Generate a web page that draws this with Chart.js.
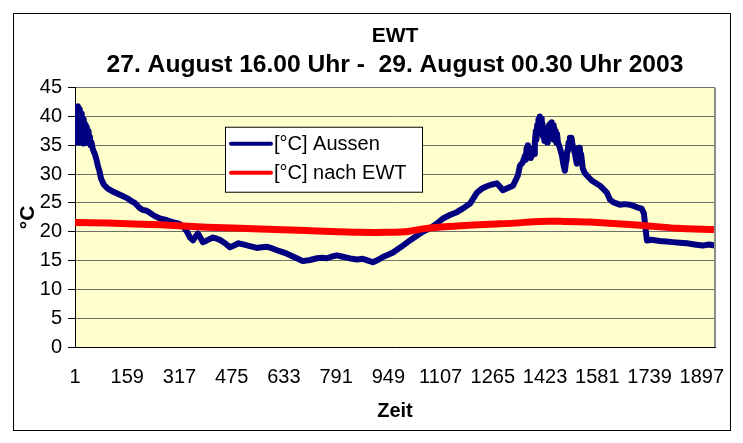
<!DOCTYPE html>
<html>
<head>
<meta charset="utf-8">
<script src="https://cdn.jsdelivr.net/npm/chart.js@4/dist/chart.umd.min.js"></script>
<style>
  body { margin: 0; background: #fff; }
  canvas { display: block; }
</style>
</head>
<body>
<canvas id="ewtChart" width="743" height="443"></canvas>
<script>
// Messwerte (Minutenindex) - Aussentemperatur
var zeitAussen = [1, 2, 3, 4, 5, 6, 7, 8, 9, 10, 11, 12, 13, 14, 15, 16, 17, 18, 19, 20, 21, 22, 23, 24, 25, 26, 27, 28, 29, 30, 31, 32, 33, 34, 35, 36, 37, 38, 40, 42, 44, 46, 48, 51, 54, 57, 61, 66, 70, 75, 80, 88, 100, 115, 130, 145, 160, 172, 182, 195, 205, 215, 225, 240, 258, 280, 300, 316, 330, 340, 349, 358, 366, 373, 380, 388, 400, 418, 430, 439, 455, 470, 482, 494, 510, 530, 551, 566, 582, 598, 612, 627, 642, 657, 672, 690, 712, 733, 748, 763, 778, 793, 808, 824, 839, 854, 872, 888, 902, 917, 932, 948, 963, 978, 993, 1014, 1035, 1053, 1075, 1095, 1114, 1135, 1156, 1176, 1196, 1206, 1217, 1232, 1247, 1262, 1277, 1287, 1295, 1310, 1326, 1341, 1347, 1355, 1362, 1365, 1367, 1369, 1371, 1374, 1377, 1380, 1383, 1386, 1388, 1390, 1392, 1395, 1397, 1399, 1401, 1403, 1405, 1407, 1409, 1411, 1413, 1415, 1417, 1419, 1421, 1423, 1425, 1427, 1429, 1431, 1433, 1435, 1437, 1439, 1441, 1443, 1445, 1447, 1449, 1451, 1453, 1455, 1457, 1459, 1462, 1468, 1474, 1479, 1483, 1486, 1488, 1490, 1492, 1494, 1496, 1498, 1501, 1503, 1505, 1508, 1510, 1515, 1519, 1521, 1523, 1525, 1528, 1530, 1532, 1537, 1543, 1549, 1564, 1589, 1610, 1619, 1630, 1649, 1665, 1679, 1695, 1703, 1715, 1722, 1726, 1731, 1745, 1770, 1790, 1809, 1830, 1852, 1875, 1900, 1918, 1936];
var tempAussen = [37, 39.5, 36, 40.5, 35.5, 41, 36.5, 41.5, 35.5, 41.8, 37, 41.5, 35.5, 41.2, 36, 41, 38, 40.5, 35.5, 40.5, 36.5, 40, 35.5, 39.5, 36, 39.5, 35.3, 39, 36.5, 38.8, 35.5, 38.5, 36, 38, 36.5, 38.2, 35.5, 37.5, 36, 37.5, 35.5, 36.5, 35, 35.5, 34.5, 34, 33.5, 32.5, 31.5, 30.5, 29.2, 28.2, 27.5, 27, 26.6, 26.2, 25.8, 25.3, 25, 24.2, 23.8, 23.7, 23.4, 22.8, 22.3, 22, 21.6, 21.4, 20.8, 20, 19, 18.5, 19.2, 19.7, 19, 18.2, 18.5, 19, 18.8, 18.6, 18, 17.3, 17.6, 18, 17.8, 17.5, 17.2, 17.3, 17.4, 17.1, 16.8, 16.5, 16.2, 15.8, 15.4, 14.9, 15.1, 15.4, 15.5, 15.4, 15.7, 15.9, 15.7, 15.5, 15.3, 15.2, 15.3, 15.0, 14.7, 15.1, 15.6, 16.0, 16.4, 17.0, 17.6, 18.5, 19.3, 20.0, 20.6, 21.4, 22.3, 22.9, 23.4, 24.1, 24.9, 25.8, 26.8, 27.5, 27.9, 28.2, 28.4, 27.8, 27.2, 27.6, 28.0, 29.8, 31.5, 32.0, 33.2, 32.5, 34.5, 33.5, 35.0, 33.0, 33.8, 32.8, 33.2, 34.5, 34.2, 33.5, 35.5, 37.5, 36, 38.5, 37, 39.5, 38, 40, 38.5, 39.6, 37, 38.8, 36.5, 38, 35.8, 37.5, 36, 37.8, 35.5, 38, 36, 38.5, 36.5, 38.8, 37, 39, 36.5, 38.5, 36, 38, 36.5, 37.5, 35.5, 37, 35.5, 34.5, 33.2, 31.5, 30.6, 32, 32.5, 34, 34.4, 35.5, 35.5, 36.3, 35.2, 36.3, 35.5, 34.5, 34.4, 33.0, 31.8, 33.2, 33.5, 34.6, 34.6, 33, 33.5, 31, 30.2, 29.8, 28.9, 28, 26.8, 25.6, 25.1, 24.7, 24.8, 24.7, 24.4, 24.2, 24.0, 23.2, 21.0, 18.5, 18.6, 18.4, 18.3, 18.2, 18.1, 18.0, 17.8, 17.6, 17.8, 17.6];

// Temperatur nach dem Erdwaermetauscher
var zeitEwt = [1, 100, 258, 400, 560, 700, 863, 950, 1014, 1053, 1100, 1156, 1256, 1330, 1407, 1480, 1558, 1640, 1719, 1822, 1936];
var tempEwt = [21.6, 21.5, 21.2, 20.8, 20.5, 20.2, 19.9, 19.9, 20.1, 20.5, 20.8, 21.0, 21.3, 21.5, 21.8, 21.8, 21.7, 21.4, 21.1, 20.6, 20.4];

// Achsenbeschriftung
var zeitTicks = [1, 159, 317, 475, 633, 791, 949, 1107, 1265, 1423, 1581, 1739, 1897];
var tempMax = 45;
var tempStep = 5;

var schrift = '"Liberation Sans", Arial, sans-serif';

function toPoints(xs, ys) {
    return xs.map(function(x, i) { return { x: x, y: ys[i] }; });
}

// Hintergrund der Zeichenflaeche + Rahmen
var plotBackground = {
    id: 'plotBackground',
    beforeDraw: function(chart) {
        var ctx = chart.ctx, a = chart.chartArea;
        ctx.save();
        ctx.fillStyle = '#fff';
        ctx.fillRect(0, 0, chart.width, chart.height);
        ctx.fillStyle = '#ffffcc';
        ctx.fillRect(a.left, a.top, a.right - a.left, a.bottom - a.top);
        ctx.strokeStyle = '#000';
        ctx.lineWidth = 1;
        ctx.strokeRect(13.5, 13.5, 717, 417);
        ctx.restore();
    },
    afterDraw: function(chart) {
        var ctx = chart.ctx, a = chart.chartArea;
        ctx.save();
        ctx.strokeStyle = '#8c8c8c';
        ctx.lineWidth = 2;
        ctx.beginPath();
        ctx.moveTo(a.right, a.top);
        ctx.lineTo(a.right, a.bottom);
        ctx.stroke();
        ctx.restore();
    }
};

// Legende innerhalb der Zeichenflaeche
var innerLegend = {
    id: 'innerLegend',
    afterDatasetsDraw: function(chart) {
        var ctx = chart.ctx, a = chart.chartArea;
        var x = a.left + 150, y = a.top + 39, w = 197, h = 65;
        ctx.save();
        ctx.fillStyle = '#fff';
        ctx.fillRect(x, y, w, h);
        ctx.strokeStyle = '#000';
        ctx.lineWidth = 1;
        ctx.strokeRect(x + 0.5, y + 0.5, w, h);
        ctx.font = '20px ' + schrift;
        ctx.textBaseline = 'middle';
        chart.data.datasets.forEach(function(ds, i) {
            var ly = y + 17 + i * 29;
            ctx.strokeStyle = ds.borderColor;
            ctx.lineWidth = 4;
            ctx.lineCap = 'round';
            ctx.beginPath();
            ctx.moveTo(x + 6, ly);
            ctx.lineTo(x + 46, ly);
            ctx.stroke();
            ctx.fillStyle = '#000';
            ctx.fillText(ds.label, x + 49, ly + 1);
        });
        ctx.restore();
    }
};

var ctx = document.getElementById('ewtChart').getContext('2d');
var ewtChart = new Chart(ctx, {
    type: 'line',
    data: {
        datasets: [{
            label: '[°C] Aussen',
            data: toPoints(zeitAussen, tempAussen),
            borderColor: '#000080',
            borderWidth: 6,
            pointRadius: 0,
            tension: 0,
            borderJoinStyle: 'round',
            borderCapStyle: 'round',
            order: 2
        }, {
            label: '[°C] nach EWT',
            data: toPoints(zeitEwt, tempEwt),
            borderColor: '#ff0000',
            borderWidth: 7,
            pointRadius: 0,
            tension: 0.3,
            borderCapStyle: 'butt',
            order: 1
        }]
    },
    options: {
        responsive: false,
        animation: false,
        layout: { padding: { left: 14, right: 28, top: 14, bottom: 13 } },
        plugins: {
            legend: { display: false },
            tooltip: { enabled: false },
            title: {
                display: true,
                text: 'EWT',
                fullSize: false,
                color: '#000',
                font: { family: schrift, size: 21, weight: 'bold' },
                padding: { top: 10, bottom: 0 }
            },
            subtitle: {
                display: true,
                text: '27. August 16.00 Uhr -  29. August 00.30 Uhr 2003',
                fullSize: false,
                color: '#000',
                font: { family: schrift, size: 24.6, weight: 'bold' },
                padding: { top: 1, bottom: 8 }
            }
        },
        scales: {
            x: {
                type: 'linear',
                min: 1,
                max: 1937,
                afterBuildTicks: function(scale) {
                    scale.ticks = zeitTicks.map(function(v) { return { value: v }; });
                },
                afterFit: function(scale) { scale.height = 83; },
                grid: { display: false, drawTicks: false },
                border: { display: true, color: '#000', width: 1 },
                ticks: {
                    autoSkip: false,
                    maxRotation: 0,
                    padding: 18,
                    color: '#000',
                    font: { family: schrift, size: 20 },
                    callback: function(v) { return String(v); }
                },
                title: {
                    display: true,
                    text: 'Zeit',
                    color: '#000',
                    font: { family: schrift, size: 20, weight: 'bold' },
                    padding: { top: 0, bottom: 7 }
                }
            },
            y: {
                min: 0,
                max: tempMax,
                afterFit: function(scale) { scale.width = 61; },
                grid: { color: '#707070', tickColor: '#000', tickLength: 7, lineWidth: 1 },
                border: { display: true, color: '#000', width: 1 },
                ticks: {
                    stepSize: tempStep,
                    padding: 6,
                    color: '#000',
                    font: { family: schrift, size: 20 }
                },
                title: {
                    display: true,
                    text: '°C',
                    color: '#000',
                    font: { family: schrift, size: 21, weight: 'bold' },
                    padding: { top: 2, bottom: 0 }
                }
            }
        }
    },
    plugins: [plotBackground, innerLegend]
});
</script>
</body>
</html>
